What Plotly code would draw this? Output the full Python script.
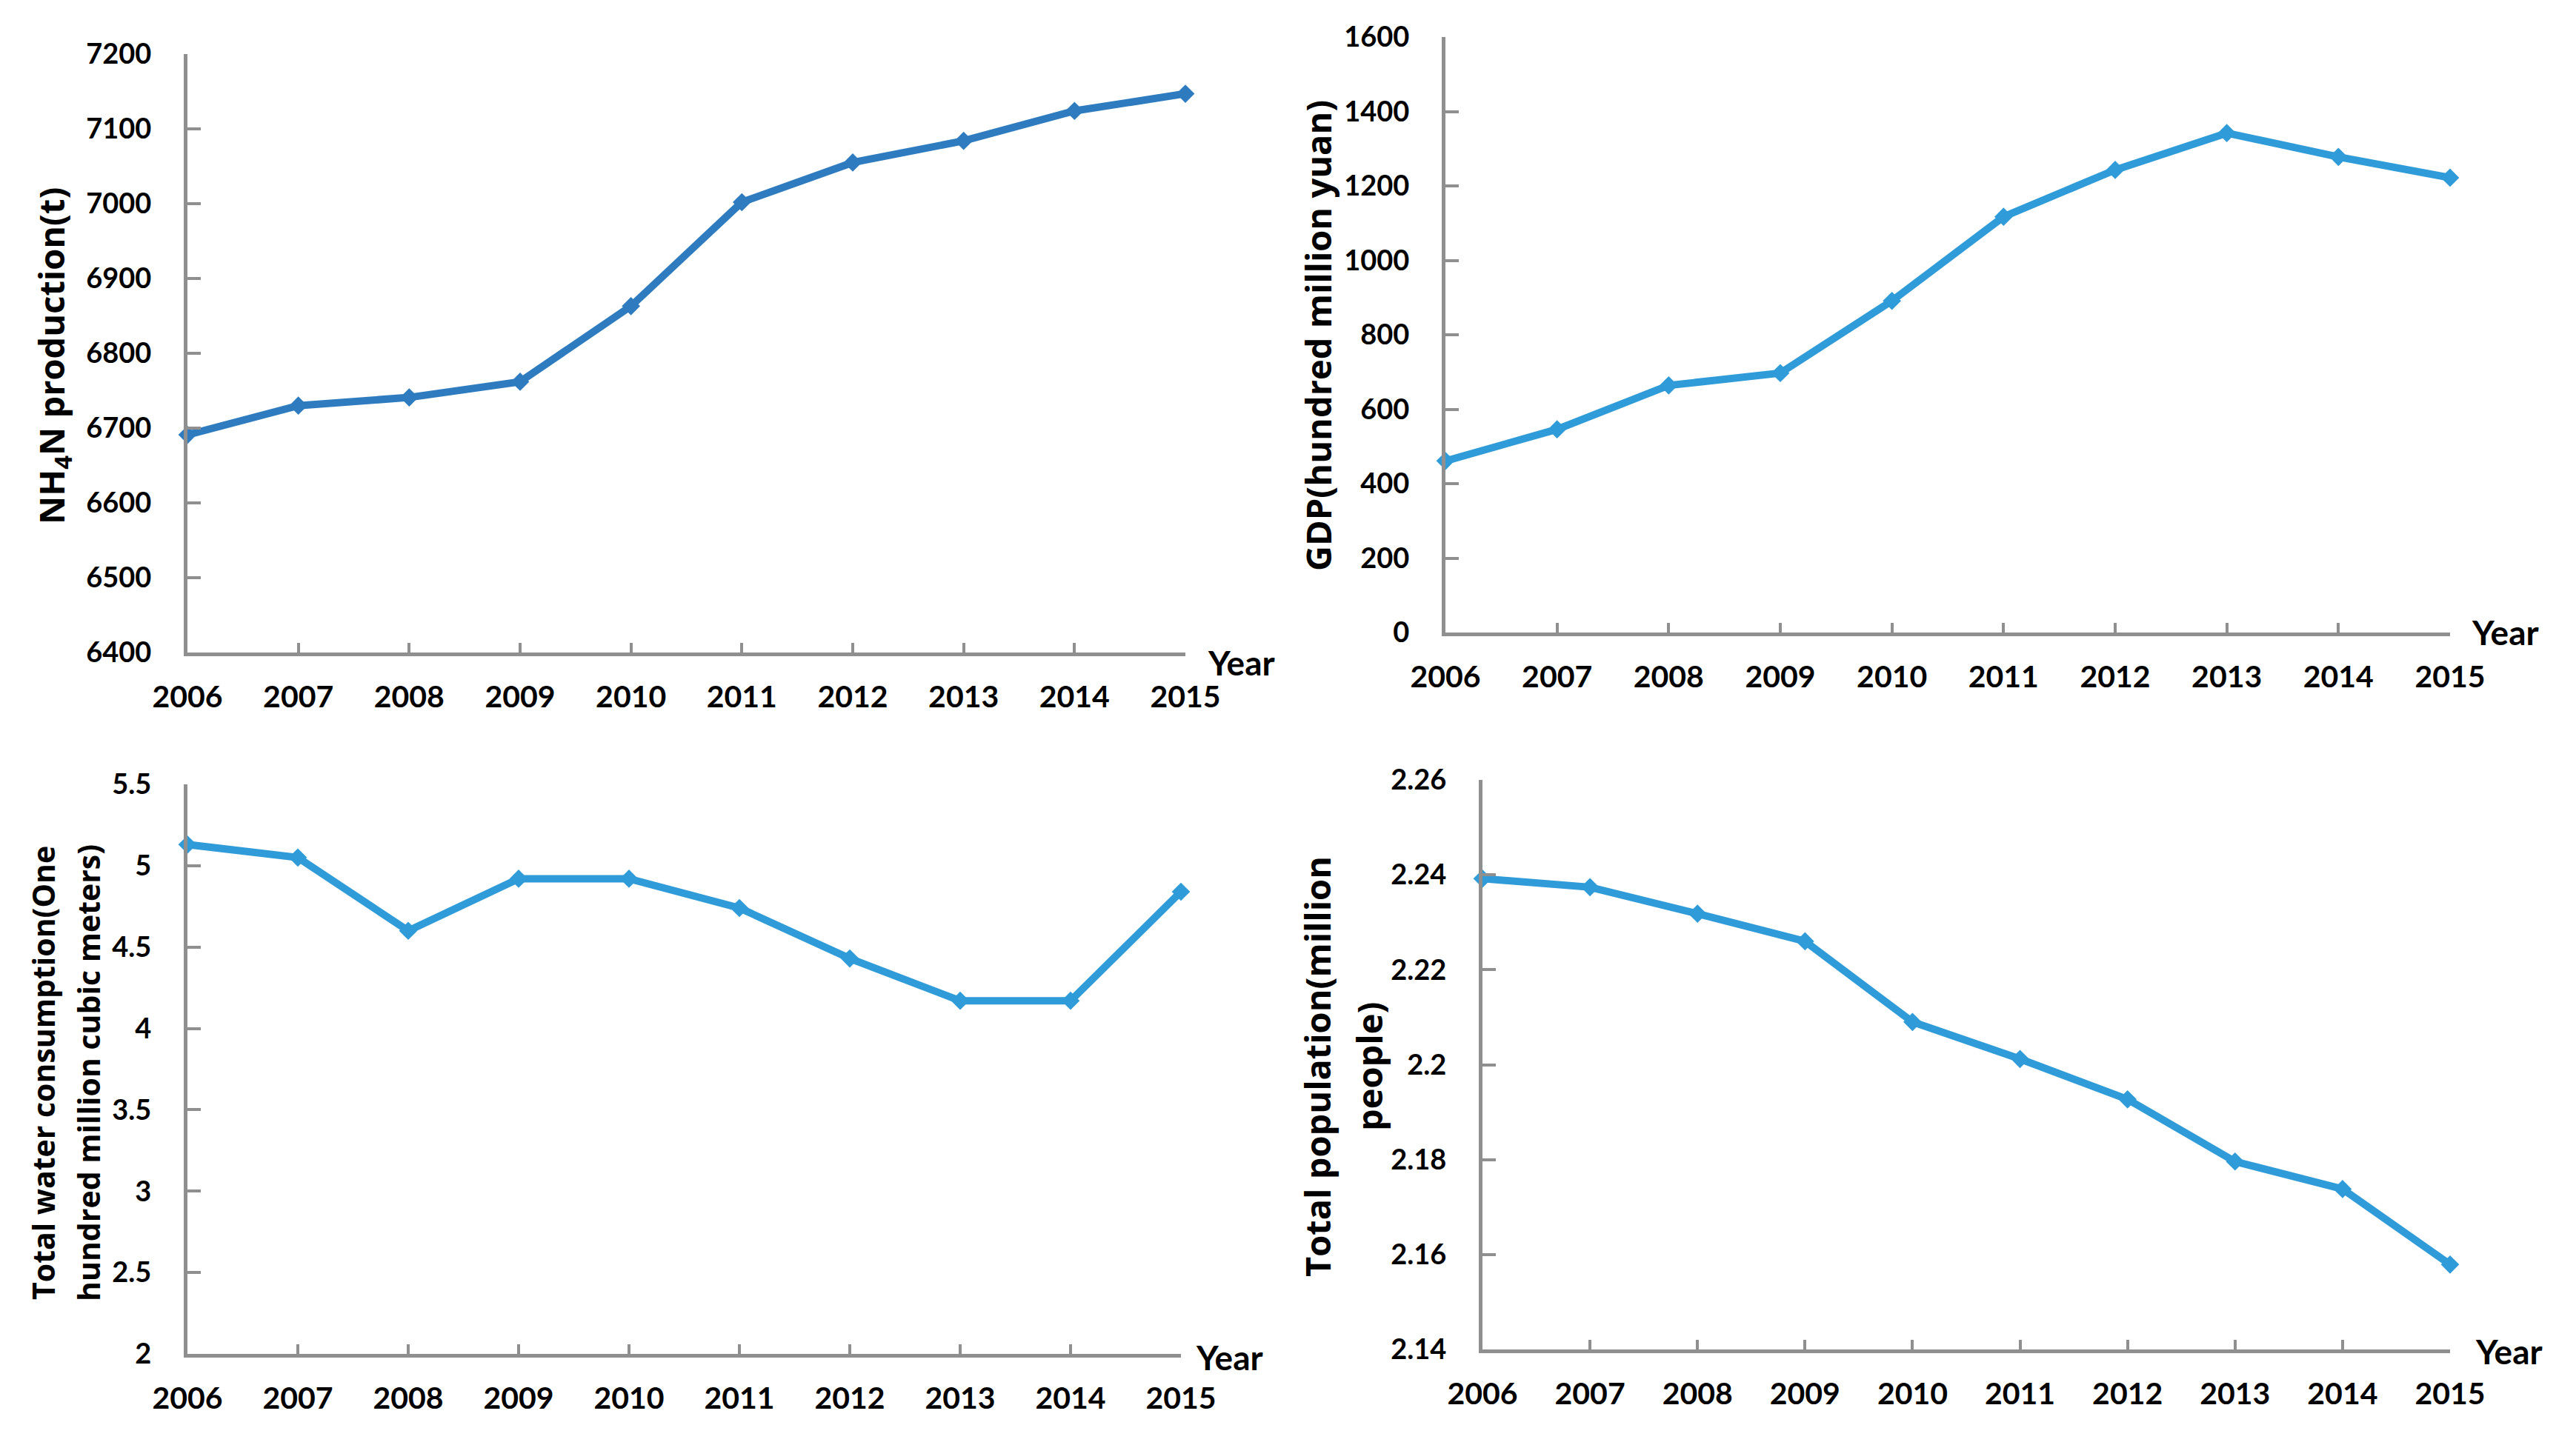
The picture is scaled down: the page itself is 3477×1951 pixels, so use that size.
import plotly.graph_objects as go

W, H = 3477, 1951
PAGE_OFFSET = 8  # default body margin of the page, in pixels

years = [2006, 2007, 2008, 2009, 2010, 2011, 2012, 2013, 2014, 2015]
nh4n_production = [6691, 6730, 6741, 6762, 6863, 7002, 7055, 7084, 7124, 7147]
gdp = [461, 546, 664, 697, 891, 1117, 1243, 1342, 1278, 1222]
water_consumption = [5.13, 5.05, 4.60, 4.92, 4.92, 4.74, 4.43, 4.17, 4.17, 4.84]
population = [2.2392, 2.2374, 2.2318, 2.2260, 2.2090, 2.2012, 2.1927, 2.1796, 2.1738, 2.1579]

nh4n_ticks = [6400, 6500, 6600, 6700, 6800, 6900, 7000, 7100, 7200]
gdp_ticks = [0, 200, 400, 600, 800, 1000, 1200, 1400, 1600]
water_ticks = [2, 2.5, 3, 3.5, 4, 4.5, 5, 5.5]
water_tick_text = ["2", "2.5", "3", "3.5", "4", "4.5", "5", "5.5"]
pop_ticks = [2.14, 2.16, 2.18, 2.20, 2.22, 2.24, 2.26]
pop_tick_text = ["2.14", "2.16", "2.18", "2.2", "2.22", "2.24", "2.26"]

DARK_BLUE = "#2E7CBF"
LIGHT_BLUE = "#2F9BD8"
AXIS_GREY = "#8F8F8F"
TICK_FONT = "Lato"
TITLE_FONT = "Open Sans"


def px_x(v):
    return (v - PAGE_OFFSET) / W


def px_y(v):
    return 1 - (v - PAGE_OFFSET) / H


# panel boxes in screen pixels: (left, right, top, bottom)
boxes = [
    (253, 1600, 73, 881),
    (1951, 3307, 50, 854),
    (253, 1594, 1059, 1828),
    (2001, 3307, 1053, 1822),
]

series = [
    (nh4n_production, DARK_BLUE, [6400, 7200], nh4n_ticks, [str(t) for t in nh4n_ticks]),
    (gdp, LIGHT_BLUE, [0, 1600], gdp_ticks, [str(t) for t in gdp_ticks]),
    (water_consumption, LIGHT_BLUE, [2, 5.5], water_ticks, water_tick_text),
    (population, LIGHT_BLUE, [2.14, 2.26], pop_ticks, pop_tick_text),
]

fig = go.Figure()
layout = dict(
    width=W, height=H,
    margin=dict(l=0, r=0, t=0, b=0),
    paper_bgcolor="white", plot_bgcolor="white",
    showlegend=False,
    annotations=[],
)

for i, ((l, r, t, b), (vals, color, yr, yt, ytt)) in enumerate(zip(boxes, series)):
    n = "" if i == 0 else str(i + 1)
    xa, ya = "x" + n, "y" + n
    fig.add_trace(go.Scatter(
        x=years, y=vals, xaxis=xa, yaxis=ya, mode="lines+markers",
        line=dict(color=color, width=10),
        marker=dict(symbol="diamond", size=19, color=color),
        cliponaxis=False,
    ))
    layout["xaxis" + n] = dict(
        domain=[px_x(l), px_x(r)], anchor=ya, range=[2006, 2015],
        tickmode="array", tickvals=years, ticktext=[str(y) for y in years],
        showline=True, linecolor=AXIS_GREY, linewidth=5,
        ticks="inside", ticklen=13, tickwidth=4, tickcolor=AXIS_GREY,
        showgrid=False, zeroline=False, fixedrange=True, automargin=False,
        ticklabelstandoff=20,
        tickfont=dict(family=TICK_FONT, size=41, color="black", weight=700),
    )
    layout["yaxis" + n] = dict(
        domain=[px_y(b), px_y(t)], anchor=xa, range=yr,
        tickmode="array", tickvals=yt, ticktext=ytt,
        showline=True, linecolor=AXIS_GREY, linewidth=5,
        ticks="inside", ticklen=18, tickwidth=4, tickcolor=AXIS_GREY,
        showgrid=False, zeroline=False, fixedrange=True, automargin=False,
        ticklabelstandoff=36,
        tickfont=dict(family=TICK_FONT, size=38, color="black", weight=700),
    )

ann = layout["annotations"]


def add_text(text, x, y, size=47, angle=-90, xanchor="center", family=TITLE_FONT):
    ann.append(dict(
        text=text, x=px_x(x), y=px_y(y), xref="paper", yref="paper",
        showarrow=False, textangle=angle, xanchor=xanchor, yanchor="middle",
        font=dict(family=family, size=size, color="black", weight=700),
    ))


add_text("NH<sub>4</sub>N production(t)", 72, 481)
add_text("GDP(hundred million yuan)", 1779, 453)
add_text("Total water consumption(One", 58, 1449, size=41)
add_text("hundred million cubic meters)", 119, 1449, size=41)
add_text("Total population(million", 1778, 1440)
add_text("people)", 1848, 1440)

for (x, y) in [(1628, 895), (3334, 853), (1612, 1832), (3339, 1824)]:
    add_text("Year", x, y, size=46, angle=0, xanchor="left", family=TICK_FONT)

fig.update_layout(**layout)
fig.write_html("out.html")
